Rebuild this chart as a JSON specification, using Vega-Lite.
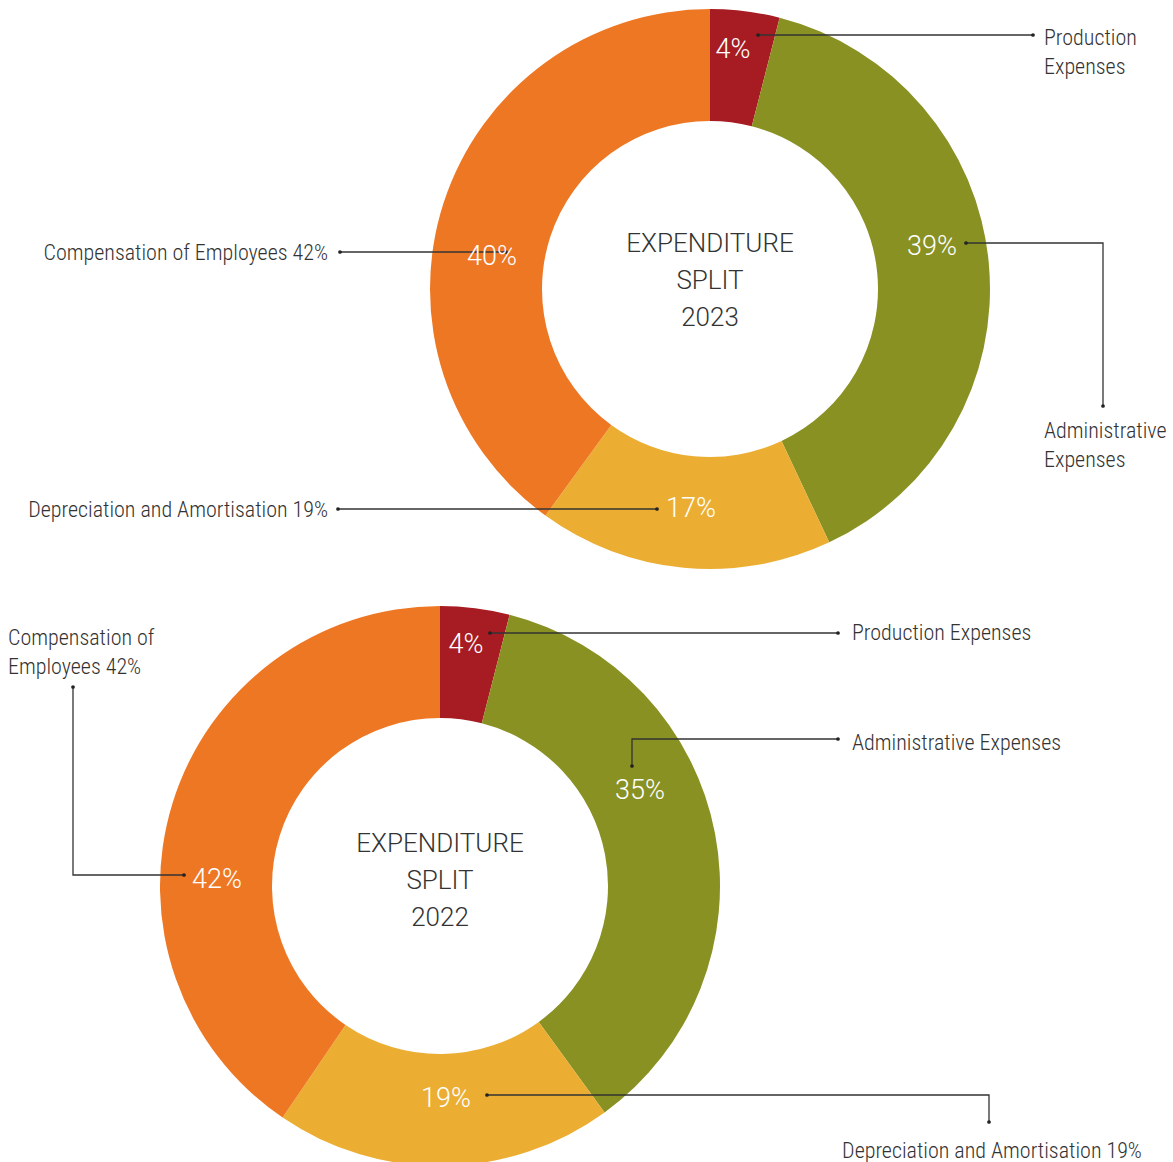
{
  "$schema": "https://vega.github.io/schema/vega-lite/v6.json",
  "width": 1173,
  "height": 1162,
  "autosize": "none",
  "padding": 0,
  "background": "white",
  "config": {"view": {"stroke": null}},
  "datasets": {
    "slices": [
      {"year": 2023, "category": "Production Expenses", "value": 4, "rank": 1},
      {"year": 2023, "category": "Administrative Expenses", "value": 39, "rank": 2},
      {"year": 2023, "category": "Depreciation and Amortisation", "value": 17, "rank": 3},
      {"year": 2023, "category": "Compensation of Employees", "value": 40, "rank": 4},
      {"year": 2022, "category": "Production Expenses", "value": 4, "rank": 1},
      {"year": 2022, "category": "Administrative Expenses", "value": 36, "rank": 2},
      {"year": 2022, "category": "Depreciation and Amortisation", "value": 19.5, "rank": 3},
      {"year": 2022, "category": "Compensation of Employees", "value": 40.5, "rank": 4}
    ],
    "leaders": [
      {"id": "T-prod", "seq": 1, "x": 758, "y": 35, "end": true},
      {"id": "T-prod", "seq": 2, "x": 1033, "y": 35, "end": true},
      {"id": "T-admin", "seq": 1, "x": 966, "y": 243, "end": true},
      {"id": "T-admin", "seq": 2, "x": 1103, "y": 243, "end": false},
      {"id": "T-admin", "seq": 3, "x": 1103, "y": 406, "end": true},
      {"id": "T-comp", "seq": 1, "x": 340, "y": 252, "end": true},
      {"id": "T-comp", "seq": 2, "x": 506, "y": 252, "end": true},
      {"id": "T-dep", "seq": 1, "x": 338, "y": 509, "end": true},
      {"id": "T-dep", "seq": 2, "x": 657, "y": 509, "end": true},
      {"id": "B-comp", "seq": 1, "x": 73, "y": 687, "end": true},
      {"id": "B-comp", "seq": 2, "x": 73, "y": 875, "end": false},
      {"id": "B-comp", "seq": 3, "x": 184, "y": 875, "end": true},
      {"id": "B-prod", "seq": 1, "x": 490, "y": 633, "end": true},
      {"id": "B-prod", "seq": 2, "x": 838, "y": 633, "end": true},
      {"id": "B-admin", "seq": 1, "x": 632, "y": 766, "end": true},
      {"id": "B-admin", "seq": 2, "x": 632, "y": 739, "end": false},
      {"id": "B-admin", "seq": 3, "x": 838, "y": 739, "end": true},
      {"id": "B-dep", "seq": 1, "x": 487, "y": 1095, "end": true},
      {"id": "B-dep", "seq": 2, "x": 989, "y": 1095, "end": false},
      {"id": "B-dep", "seq": 3, "x": 989, "y": 1122, "end": true}
    ],
    "pcts": [
      {"label": "4%", "x": 733, "y": 58},
      {"label": "39%", "x": 932, "y": 255},
      {"label": "17%", "x": 691, "y": 517},
      {"label": "40%", "x": 492, "y": 265},
      {"label": "4%", "x": 466, "y": 653},
      {"label": "35%", "x": 640, "y": 799},
      {"label": "19%", "x": 446, "y": 1107},
      {"label": "42%", "x": 217, "y": 888}
    ],
    "namesLeft": [
      {"label": "Production\nExpenses", "x": 1044, "y": 45},
      {"label": "Administrative\nExpenses", "x": 1044, "y": 438},
      {"label": "Compensation of\nEmployees 42%", "x": 8, "y": 645},
      {"label": "Production Expenses", "x": 852, "y": 640},
      {"label": "Administrative Expenses", "x": 852, "y": 750}
    ],
    "namesRight": [
      {"label": "Compensation of Employees 42%", "x": 328, "y": 260},
      {"label": "Depreciation and Amortisation 19%", "x": 328, "y": 517}
    ],
    "namesCenter": [
      {"label": "Depreciation and Amortisation 19%", "x": 992, "y": 1158}
    ],
    "titles": [
      {"label": "EXPENDITURE\nSPLIT\n2023", "x": 710, "y": 252},
      {"label": "EXPENDITURE\nSPLIT\n2022", "x": 440, "y": 852}
    ]
  },
  "layer": [
    {
      "data": {"name": "slices"},
      "transform": [{"filter": "datum.year == 2023"}],
      "mark": {"type": "arc", "innerRadius": 168, "outerRadius": 280},
      "encoding": {
        "x": {"datum": 710, "type": "quantitative", "scale": {"domain": [0, 1173], "nice": false, "zero": false}, "axis": null},
        "y": {"datum": 289, "type": "quantitative", "scale": {"domain": [0, 1162], "nice": false, "zero": false, "reverse": true}, "axis": null},
        "theta": {"field": "value", "type": "quantitative", "stack": true},
        "order": {"field": "rank", "type": "quantitative"},
        "color": {"field": "category", "type": "nominal", "legend": null,
          "scale": {"domain": ["Production Expenses", "Administrative Expenses", "Depreciation and Amortisation", "Compensation of Employees"],
                    "range": ["#A61C22", "#899122", "#EBAE33", "#EE7724"]}}
      }
    },
    {
      "data": {"name": "slices"},
      "transform": [{"filter": "datum.year == 2022"}],
      "mark": {"type": "arc", "innerRadius": 168, "outerRadius": 280},
      "encoding": {
        "x": {"datum": 440, "type": "quantitative", "axis": null},
        "y": {"datum": 886, "type": "quantitative", "axis": null},
        "theta": {"field": "value", "type": "quantitative", "stack": true},
        "order": {"field": "rank", "type": "quantitative"},
        "color": {"field": "category", "type": "nominal", "legend": null}
      }
    },
    {
      "data": {"name": "leaders"},
      "mark": {"type": "line", "color": "#333333", "strokeWidth": 1.3},
      "encoding": {
        "x": {"field": "x", "type": "quantitative", "axis": null},
        "y": {"field": "y", "type": "quantitative", "axis": null},
        "detail": {"field": "id", "type": "nominal"},
        "order": {"field": "seq", "type": "quantitative"}
      }
    },
    {
      "data": {"name": "leaders"},
      "transform": [{"filter": "datum.end"}],
      "mark": {"type": "point", "filled": true, "color": "#222222", "size": 14, "opacity": 1},
      "encoding": {
        "x": {"field": "x", "type": "quantitative", "axis": null},
        "y": {"field": "y", "type": "quantitative", "axis": null}
      }
    },
    {
      "data": {"name": "pcts"},
      "mark": {"type": "text", "color": "white", "font": "Roboto", "fontWeight": 300, "fontSize": 27, "align": "center", "baseline": "alphabetic"},
      "encoding": {
        "x": {"field": "x", "type": "quantitative", "axis": null},
        "y": {"field": "y", "type": "quantitative", "axis": null},
        "text": {"field": "label", "type": "nominal"}
      }
    },
    {
      "data": {"name": "namesLeft"},
      "mark": {"type": "text", "color": "#333333", "font": "Roboto Condensed, Roboto", "fontWeight": 300, "fontSize": 22, "align": "left", "baseline": "alphabetic", "lineBreak": "\n", "lineHeight": 29},
      "encoding": {
        "x": {"field": "x", "type": "quantitative", "axis": null},
        "y": {"field": "y", "type": "quantitative", "axis": null},
        "text": {"field": "label", "type": "nominal"}
      }
    },
    {
      "data": {"name": "namesRight"},
      "mark": {"type": "text", "color": "#333333", "font": "Roboto Condensed, Roboto", "fontWeight": 300, "fontSize": 22, "align": "right", "baseline": "alphabetic", "lineBreak": "\n", "lineHeight": 29},
      "encoding": {
        "x": {"field": "x", "type": "quantitative", "axis": null},
        "y": {"field": "y", "type": "quantitative", "axis": null},
        "text": {"field": "label", "type": "nominal"}
      }
    },
    {
      "data": {"name": "namesCenter"},
      "mark": {"type": "text", "color": "#333333", "font": "Roboto Condensed, Roboto", "fontWeight": 300, "fontSize": 22, "align": "center", "baseline": "alphabetic"},
      "encoding": {
        "x": {"field": "x", "type": "quantitative", "axis": null},
        "y": {"field": "y", "type": "quantitative", "axis": null},
        "text": {"field": "label", "type": "nominal"}
      }
    },
    {
      "data": {"name": "titles"},
      "mark": {"type": "text", "color": "#333333", "font": "Roboto", "fontWeight": 300, "fontSize": 26, "align": "center", "baseline": "alphabetic", "lineBreak": "\n", "lineHeight": 37},
      "encoding": {
        "x": {"field": "x", "type": "quantitative", "axis": null},
        "y": {"field": "y", "type": "quantitative", "axis": null},
        "text": {"field": "label", "type": "nominal"}
      }
    }
  ]
}
